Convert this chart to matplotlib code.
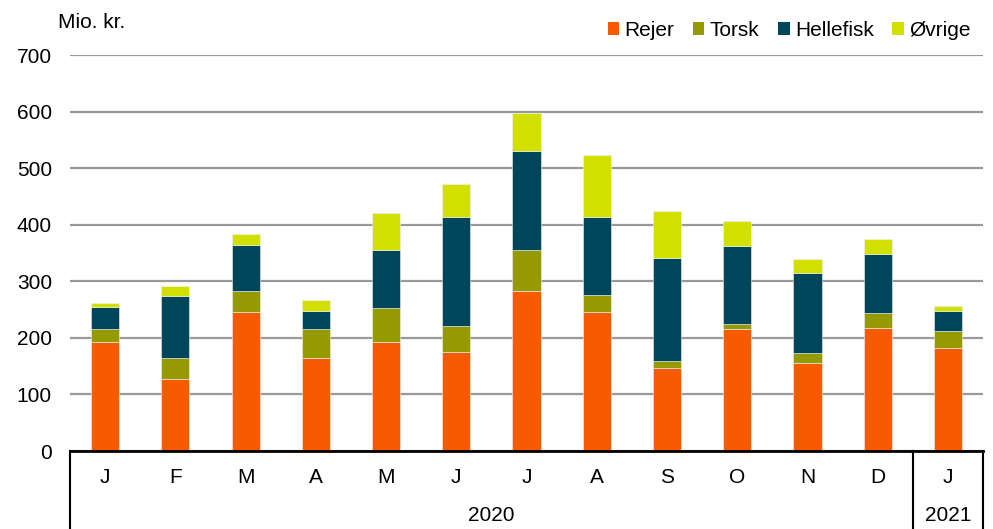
import matplotlib.pyplot as plt
from matplotlib.patches import Patch
import numpy as np

# data (Mio. kr.)
months = ["J", "F", "M", "A", "M", "J", "J", "A", "S", "O", "N", "D", "J"]
years = [("2020", 0, 11), ("2021", 12, 12)]
rejer = [193, 128, 245, 165, 193, 175, 282, 245, 147, 216, 156, 217, 182]
torsk = [23, 37, 38, 51, 59, 46, 73, 30, 13, 9, 17, 27, 30]
hellefisk = [38, 109, 81, 31, 103, 193, 176, 138, 181, 137, 141, 104, 35]
ovrige = [7, 17, 20, 20, 66, 58, 66, 111, 83, 44, 25, 26, 10]

series = [("Rejer", rejer, "#F75A00"), ("Torsk", torsk, "#959A00"),
          ("Hellefisk", hellefisk, "#00465A"), ("Øvrige", ovrige, "#D2E000")]

plt.rcParams['font.family'] = ['Liberation Sans', 'DejaVu Sans']
fs = 15

fig = plt.figure(figsize=(9.93, 5.29), dpi=100)
ax = fig.add_axes([0.0705, 0.1474, 0.9195, 0.7486])

x = np.arange(len(months))
bottom = np.zeros(len(months))
for name, vals, col in series:
    ax.bar(x, vals, width=0.4, bottom=bottom, color=col, edgecolor="#f2f2f2",
           linewidth=0.4, zorder=3)
    bottom += np.array(vals)

ax.set_xlim(-0.5, len(months) - 0.5)
ax.set_ylim(0, 700)
ax.set_yticks(range(0, 701, 100))
ax.tick_params(axis='y', length=0, labelsize=fs, pad=13)
ax.set_xticks([])
ax.grid(axis='y', color='#999999', linewidth=1.6, zorder=0)
for s in ['left', 'right', 'top']:
    ax.spines[s].set_visible(False)
ax.spines['bottom'].set_linewidth(2)
ax.spines['bottom'].set_zorder(4)

# category box below the axis
tr = ax.get_xaxis_transform()
box_bottom = -0.2
for xb in [-0.5, 11.5, 12.5]:
    ax.plot([xb, xb], [0, box_bottom], transform=tr, color='black',
            linewidth=1.5, clip_on=False)
for i, m in enumerate(months):
    ax.text(i, -0.066, m, transform=tr, ha='center', va='center', fontsize=fs)
for label, i0, i1 in years:
    ax.text((i0 + i1) / 2, -0.164, label, transform=tr, ha='center',
            va='center', fontsize=fs)

fig.text(0.058, 0.958, "Mio. kr.", fontsize=fs, va='center', ha='left')

handles = [Patch(facecolor=c, label=n) for n, _, c in series]
fig.legend(handles=handles, loc='center right', bbox_to_anchor=(0.99, 0.943),
           ncol=4, frameon=False, fontsize=fs, handlelength=0.55,
           handleheight=0.55, handletextpad=0.25, columnspacing=0.9,
           borderpad=0.1)

fig.savefig("out.png", dpi=100)
